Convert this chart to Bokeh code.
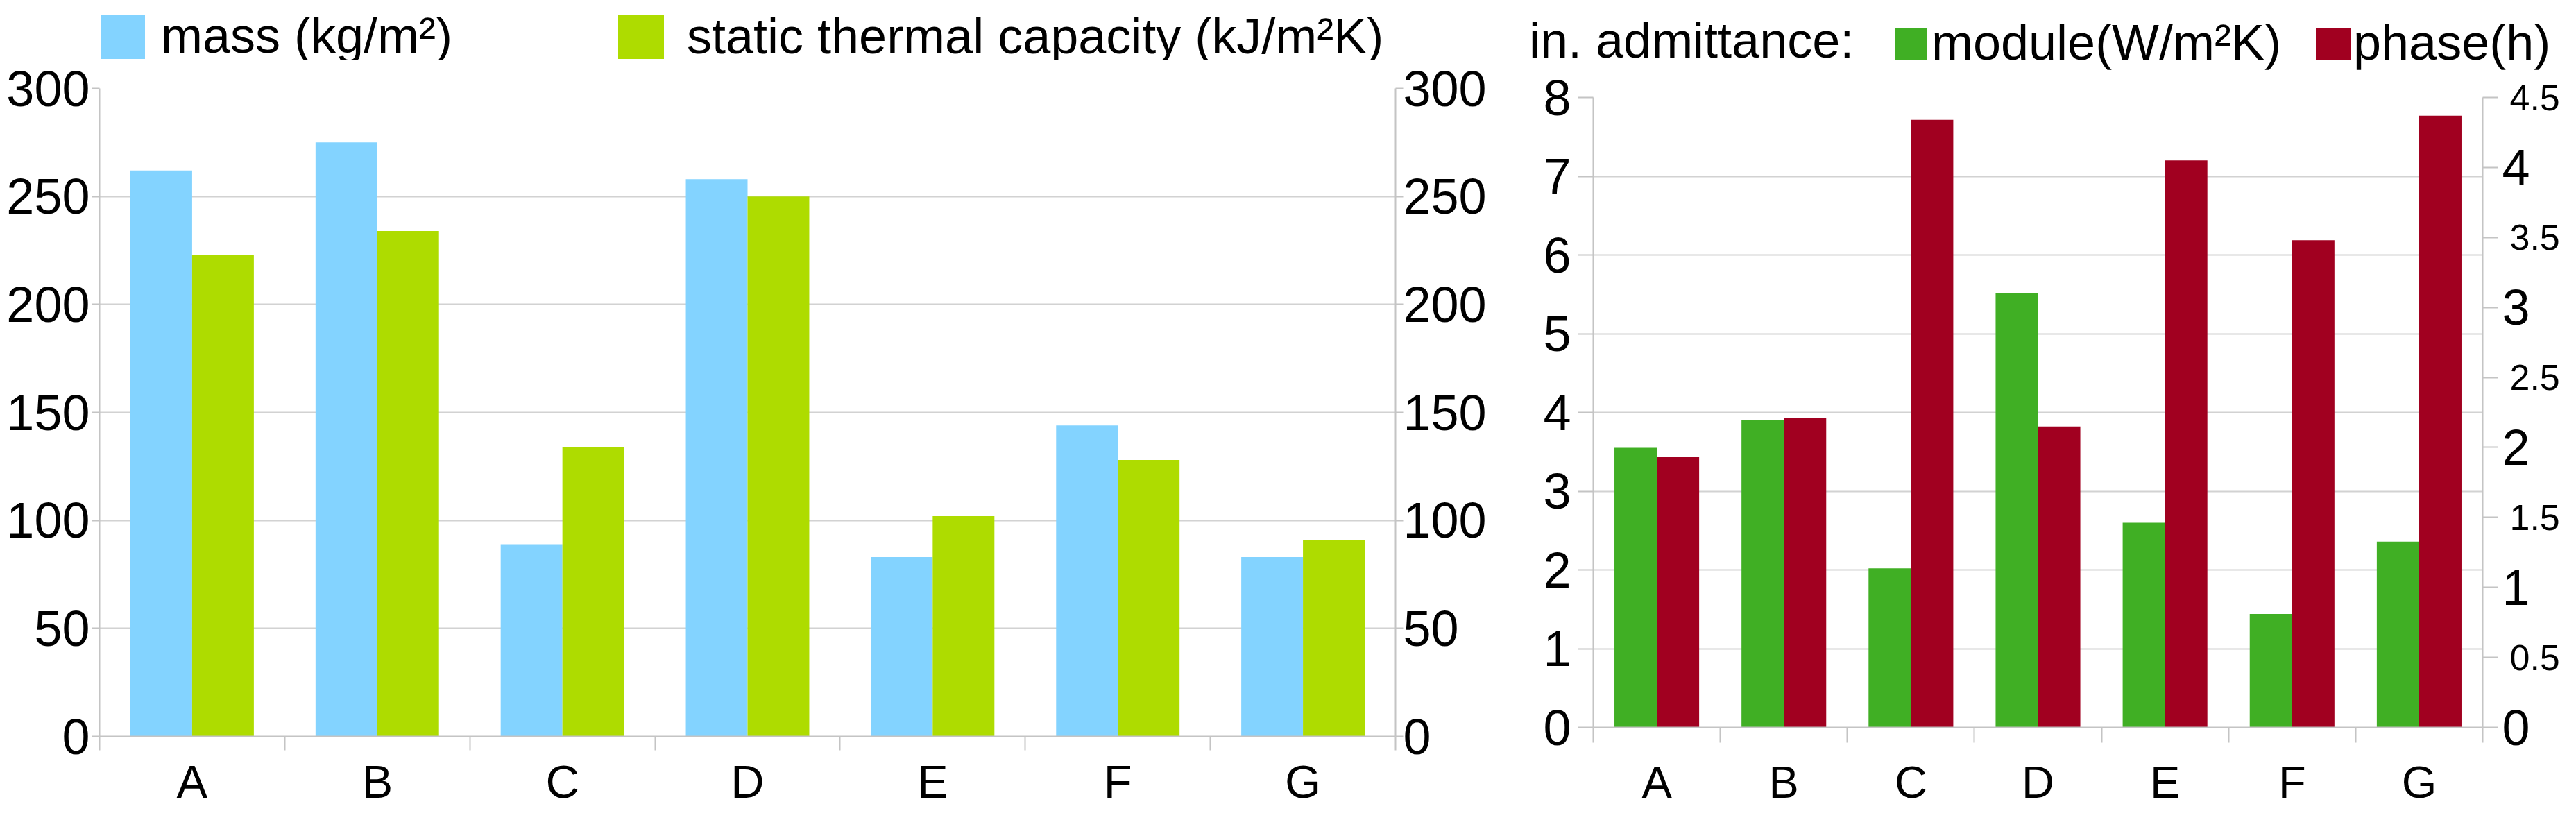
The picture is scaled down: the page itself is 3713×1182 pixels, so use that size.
import numpy as np
from bokeh.plotting import figure
from bokeh.models import Range1d, LinearAxis, FixedTicker, Div
from bokeh.layouts import row, column
from bokeh.embed import file_html
from bokeh.resources import INLINE

# ---------------- data ----------------
categories = ["A", "B", "C", "D", "E", "F", "G"]
mass = [262, 275, 89, 258, 83, 144, 83]                        # kg/m2
thermal_capacity = [223, 234, 134, 250, 102, 128, 91]           # kJ/m2K
admittance_module = [3.55, 3.90, 2.02, 5.51, 2.60, 1.44, 2.36]  # W/m2K
admittance_phase = [1.93, 2.21, 4.34, 2.15, 4.05, 3.48, 4.37]   # h

left_ticks = [0, 50, 100, 150, 200, 250, 300]
module_ticks = [0, 1, 2, 3, 4, 5, 6, 7, 8]
phase_ticks = [0, 0.5, 1, 1.5, 2, 2.5, 3, 3.5, 4, 4.5]
phase_tick_labels = ["0", "0.5", "1", "1.5", "2", "2.5", "3", "3.5", "4", "4.5"]

legend_left = ["mass (kg/m²)", "static thermal capacity (kJ/m²K)"]
legend_right_title = "in. admittance:"
legend_right = ["module(W/m²K)", "phase(h)"]

# ---------------- style ----------------
FONT = "Liberation Sans"
GRID = "#d2d2d2"
AXIS = "#c4c4c4"
C_MASS = "#83D3FF"
C_CAP = "#AEDC00"
C_MOD = "#40AF24"
C_PHASE = "#A10020"

n = len(categories)
centers = [i + 0.5 for i in range(n)]
bw = 1.0 / 3.0


def style_y(ax, ticks, size, tick_out, standoff):
    ax.ticker = FixedTicker(ticks=ticks)
    ax.axis_line_color = AXIS
    ax.axis_line_width = 2
    ax.major_tick_line_color = AXIS
    ax.major_tick_line_width = 2
    ax.major_tick_out = tick_out
    ax.major_tick_in = 0
    ax.minor_tick_line_color = None
    ax.major_label_text_font = FONT
    ax.major_label_text_font_size = size
    ax.major_label_text_color = "black"
    ax.major_label_standoff = standoff


def style_x(ax, size, tick_out, standoff):
    ax.ticker = FixedTicker(ticks=centers, minor_ticks=list(range(n + 1)))
    ax.major_label_overrides = {c: cat for c, cat in zip(centers, categories)}
    ax.axis_line_color = AXIS
    ax.axis_line_width = 2
    ax.major_tick_line_color = None
    ax.major_tick_out = 0
    ax.major_tick_in = 0
    ax.minor_tick_line_color = AXIS
    ax.minor_tick_line_width = 2
    ax.minor_tick_out = tick_out
    ax.minor_tick_in = 0
    ax.major_label_text_font = FONT
    ax.major_label_text_font_size = size
    ax.major_label_text_color = "black"
    ax.major_label_standoff = standoff


def base_style(p):
    p.outline_line_color = None
    p.xgrid.visible = False
    p.ygrid.grid_line_color = GRID
    p.ygrid.grid_line_width = 2
    p.background_fill_color = "white"
    p.border_fill_color = "white"


def swatch(left, top, w, h, color):
    return (f'<span style="position:absolute;left:{left}px;top:{top}px;width:{w}px;'
            f'height:{h}px;background:{color};"></span>')


def caption(left, top, text):
    return (f'<span style="position:absolute;left:{left}px;top:{top}px;white-space:nowrap;'
            f'line-height:72px;">{text}</span>')


def legend_div(width, height, parts):
    html = (f'<div style="position:relative;width:{width}px;height:{height}px;'
            f"font-family:'{FONT}';font-size:72px;color:black;margin:0;padding:0;\">"
            + "".join(parts) + "</div>")
    return Div(text=html, width=width, height=height, margin=0,
               styles={"padding": "0", "margin": "0", "overflow": "visible"})


W1, W2 = 2146, 1551
H_TOTAL = 1166
H1, H2 = 86, 100

# ---------------- left chart ----------------
p1 = figure(width=W1, height=H_TOTAL - H1, x_range=Range1d(0, n), y_range=Range1d(0, 300),
            output_backend="svg", toolbar_location=None,
            min_border_left=143, min_border_right=135, min_border_top=41, min_border_bottom=94)
base_style(p1)
style_y(p1.yaxis[0], left_ticks, "72px", 11, 3)
style_x(p1.xaxis[0], "67px", 20, 7)
p1.ygrid.ticker = FixedTicker(ticks=left_ticks)

ax_r1 = LinearAxis()
style_y(ax_r1, left_ticks, "72px", 11, 0)
p1.add_layout(ax_r1, "right")

p1.vbar(x=[c - bw / 2 for c in centers], top=mass, width=bw, fill_color=C_MASS, line_color=None)
p1.vbar(x=[c + bw / 2 for c in centers], top=thermal_capacity, width=bw,
        fill_color=C_CAP, line_color=None)

d1 = legend_div(W1, H1, [
    swatch(145, 21, 64, 64, C_MASS), caption(232, 15, legend_left[0]),
    swatch(891, 21, 66, 64, C_CAP), caption(990, 16, legend_left[1]),
])

# ---------------- right chart ----------------
p2 = figure(width=W2, height=H_TOTAL - H2, x_range=Range1d(0, n), y_range=Range1d(0, 8),
            output_backend="svg", toolbar_location=None,
            min_border_left=150, min_border_right=119, min_border_top=40, min_border_bottom=95)
p2.extra_y_ranges = {"phase": Range1d(0, 4.5)}
base_style(p2)
style_y(p2.yaxis[0], module_ticks, "72px", 22, 10)
style_x(p2.xaxis[0], "65px", 22, 20)
p2.ygrid.ticker = FixedTicker(ticks=module_ticks)

# right axis: whole-number labels (large) next to the frame ...
ax_int = LinearAxis(y_range_name="phase")
style_y(ax_int, phase_ticks, "72px", 22, 6)
ax_int.major_label_overrides = {t: (lab if "." not in lab else "")
                                for t, lab in zip(phase_ticks, phase_tick_labels)}
p2.add_layout(ax_int, "right")
# ... and half-step labels (smaller), pulled back under the same column
ax_half = LinearAxis(y_range_name="phase")
style_y(ax_half, phase_ticks, "52px", 0, -32)
ax_half.axis_line_color = None
ax_half.major_tick_line_color = None
ax_half.major_label_overrides = {t: (lab if "." in lab else "")
                                 for t, lab in zip(phase_ticks, phase_tick_labels)}
p2.add_layout(ax_half, "right")

p2.vbar(x=[c - bw / 2 for c in centers], top=admittance_module, width=bw,
        fill_color=C_MOD, line_color=None)
p2.vbar(x=[c + bw / 2 for c in centers], top=admittance_phase, width=bw,
        y_range_name="phase", fill_color=C_PHASE, line_color=None)

d2 = legend_div(W2, H2, [
    caption(58, 22, legend_right_title),
    swatch(585, 40, 46, 46, C_MOD), caption(638, 25, legend_right[0]),
    swatch(1192, 40, 50, 46, C_PHASE), caption(1246, 25, legend_right[1]),
])

layout = row(column(d1, p1), column(d2, p2))
open("out.html", "w").write(file_html(layout, INLINE))
